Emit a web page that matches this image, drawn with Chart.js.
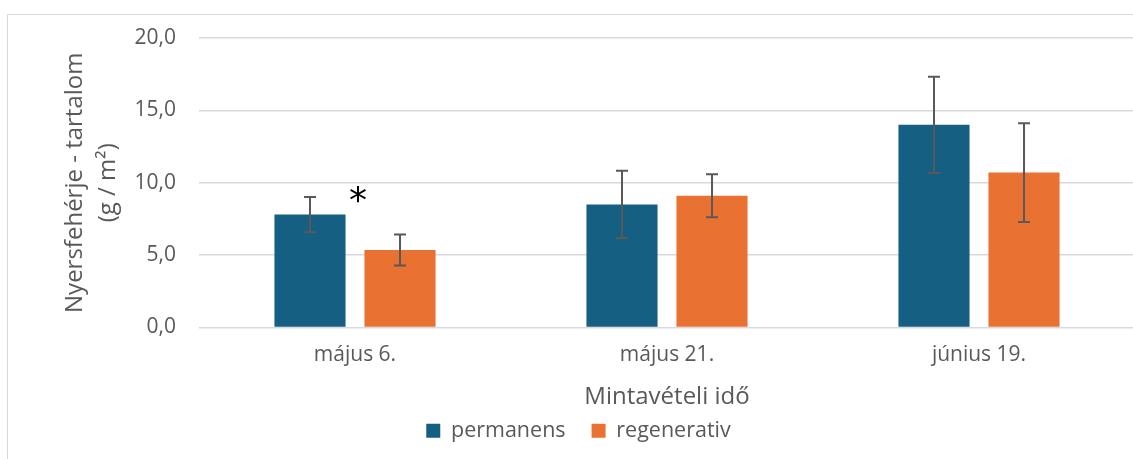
<!DOCTYPE html>
<html>
<head>
<meta charset="utf-8">
<script src="https://cdn.jsdelivr.net/npm/chart.js@4/dist/chart.umd.min.js"></script>
<style>
  html, body { margin: 0; padding: 0; background: #ffffff; overflow: hidden; }
  #frame { position: absolute; left: 7px; top: 14px; width: 1200px; height: 500px;
           border-left: 1.5px solid #d9d9d9; border-top: 1.5px solid #d9d9d9; box-sizing: border-box; }
  #wrap { position: absolute; left: 0; top: 0; width: 1140px; height: 459px; }
</style>
</head>
<body>
<div id="frame"></div>
<div id="wrap"><canvas id="c"></canvas></div>
<script>
const categories = ['május 6.', 'május 21.', 'június 19.'];
const seriesNames = ['permanens', 'regenerativ'];
const permanens = [7.8, 8.5, 14.0];
const regenerativ = [5.35, 9.1, 10.7];
const permanensErr = [1.22, 2.33, 3.32];
const regenerativErr = [1.07, 1.49, 3.41];
const significance = ['*', '', ''];
const yMin = 0, yMax = 20, yStep = 5;
const yTitle = ['Nyersfehérje - tartalom', '(g / m²)'];
const xTitle = 'Mintavételi idő';

const FONT = "'Open Sans', sans-serif";
const TEXT = '#595959';

const errorBarPlugin = {
  id: 'errorBars',
  afterDatasetsDraw(chart) {
    const ctx = chart.ctx;
    const ys = chart.scales.y;
    const xs = chart.scales.x;
    chart.data.datasets.forEach((ds, di) => {
      const meta = chart.getDatasetMeta(di);
      meta.data.forEach((bar, i) => {
        const v = ds.data[i], e = ds.errors[i];
        const yTop = ys.getPixelForValue(v + e);
        const yBot = ys.getPixelForValue(v - e);
        ctx.save();
        ctx.strokeStyle = '#595959';
        ctx.lineWidth = 2;
        ctx.beginPath();
        ctx.moveTo(bar.x, yTop); ctx.lineTo(bar.x, yBot);
        ctx.moveTo(bar.x - 6, yTop); ctx.lineTo(bar.x + 6, yTop);
        ctx.moveTo(bar.x - 6, yBot); ctx.lineTo(bar.x + 6, yBot);
        ctx.stroke();
        ctx.restore();
      });
    });
    significance.forEach((s, i) => {
      if (!s) return;
      let top = -Infinity;
      chart.data.datasets.forEach(ds => { top = Math.max(top, ds.data[i] + ds.errors[i]); });
      const x = xs.getPixelForValue(i) + 3;
      const y = ys.getPixelForValue(top);
      ctx.save();
      ctx.fillStyle = '#000000';
      ctx.font = "36px 'DejaVu Sans', sans-serif";
      ctx.textAlign = 'center';
      ctx.textBaseline = 'middle';
      ctx.fillText(s, x, y + 6);
      ctx.restore();
    });
  }
};

new Chart(document.getElementById('c'), {
  type: 'bar',
  data: {
    labels: categories,
    datasets: [
      { label: seriesNames[0], data: permanens, errors: permanensErr, backgroundColor: '#156082',
        categoryPercentage: 0.577, barPercentage: 0.79 },
      { label: seriesNames[1], data: regenerativ, errors: regenerativErr, backgroundColor: '#E97132',
        categoryPercentage: 0.577, barPercentage: 0.79 }
    ]
  },
  plugins: [errorBarPlugin],
  options: {
    responsive: true,
    maintainAspectRatio: false,
    devicePixelRatio: 1,
    animation: false,
    layout: { padding: { left: 22, right: 5, top: 38, bottom: 7.5 } },
    plugins: {
      legend: {
        position: 'bottom',
        labels: { font: { family: FONT, size: 21.5 }, color: TEXT, boxWidth: 14, boxHeight: 14, padding: 26 }
      },
      tooltip: { enabled: false }
    },
    scales: {
      x: {
        grid: { display: false },
        border: { display: false },
        ticks: { font: { family: FONT, size: 21 }, color: TEXT, padding: 7 },
        title: { display: true, text: xTitle, font: { family: FONT, size: 24 }, color: TEXT, padding: { top: 0, bottom: -18 } },
        afterFit(scale) { scale.height = 66.5; }
      },
      y: {
        min: yMin, max: yMax,
        grid: { color: '#d9d9d9', lineWidth: 1.5, drawTicks: false },
        border: { display: false },
        ticks: {
          stepSize: yStep, padding: 23, font: { family: FONT, size: 21 }, color: TEXT,
          callback: v => v.toFixed(1).replace('.', ',')
        },
        title: { display: true, text: yTitle, font: { family: FONT, size: 24, lineHeight: 1.4 }, color: TEXT, padding: { top: 36, bottom: 0 } },
        afterFit(scale) { scale.width = 177; }
      }
    }
  }
});
</script>
</body>
</html>
